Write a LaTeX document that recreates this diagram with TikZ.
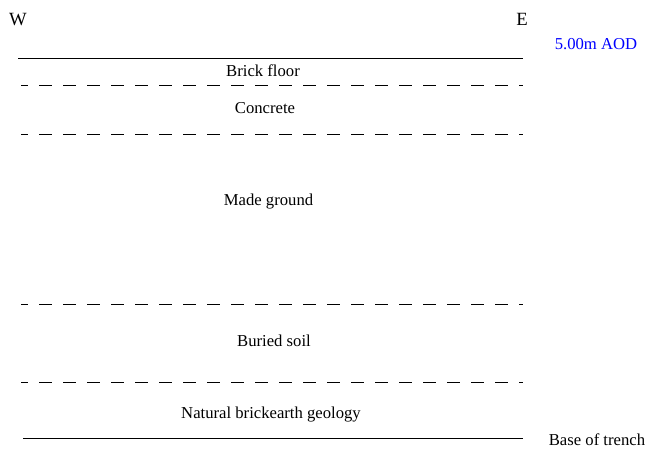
\documentclass[tikz,border=0pt]{standalone}
\usepackage{fontspec}
\setmainfont{Liberation Serif}
\usepackage{xcolor}
\usetikzlibrary{positioning}

\begin{document}
\begin{tikzpicture}[x=0.75pt, y=-0.75pt, font=\fontsize{12.5}{14}\selectfont,
  boundary/.style={line width=0.75pt},
  contact/.style={line width=0.7pt, dash pattern=on 9.75pt off 8.25pt, dash phase=4.5pt},
  layer/.style={inner sep=0pt, anchor=base},
  compass/.style={layer, font=\fontsize{14}{16}\selectfont}]
\useasboundingbox (0,0) rectangle (649,450);
% orientation and level
\node[compass] (w) at (18,25) {W};
\node[compass] (e) at (522,25) {E};
\node[layer, text=blue] (aod) at (596,49.5) {5.00m AOD};
% layer boundaries
\draw[boundary] (18,58) -- (523,58);
\draw[contact] (21,85) -- (523,85);
\draw[contact] (21,134) -- (523,134);
\draw[contact] (21,304) -- (523,304);
\draw[contact] (21,382) -- (523,382);
\draw[boundary] (23,438) -- (523,438);
% deposits
\node[layer] (floor) at (263,76) {Brick floor};
\node[layer] (conc) at (265,113) {Concrete};
\node[layer] (made) at (268.5,205.3) {Made ground};
\node[layer] (soil) at (274,346.5) {Buried soil};
\node[layer] (nat) at (271,418.5) {Natural brickearth geology};
\node[layer] (base) at (597,445.5) {Base of trench};
\end{tikzpicture}
\end{document}
